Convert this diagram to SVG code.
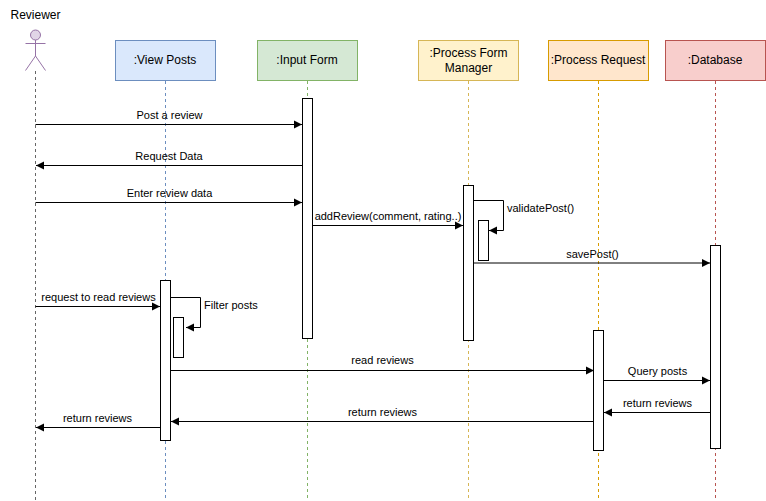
<svg xmlns="http://www.w3.org/2000/svg" width="766" height="501" viewBox="0 0 766 501">
<style>
text{font-family:"Liberation Sans",Arial,sans-serif;fill:#000}
.n{font-size:12px;text-anchor:middle}
.l{font-size:11px;text-anchor:middle}
.s{font-size:11px}
.ll{fill:none;stroke-dasharray:3 3;stroke-width:1}
.b{stroke-width:1}
.a{fill:#fff;stroke:#000;stroke-width:1}
.c{fill:none;stroke:#000;stroke-width:1;marker-end:url(#ah)}
</style>
<defs>
<marker id="ah" markerUnits="userSpaceOnUse" markerWidth="10" markerHeight="10" refX="8" refY="4.5" orient="auto"><path d="M0 0.5L8 4.5L0 8.5Z" fill="#000"/></marker>
</defs>
<rect width="766" height="501" fill="#fff"/>
<g id="lifelines">
<path class="ll" stroke="#666" d="M35.5 71V500"/>
<path class="ll" stroke="#6c8ebf" d="M165.5 81V500"/>
<path class="ll" stroke="#82b366" d="M307.5 81V500"/>
<path class="ll" stroke="#d6b656" d="M468.5 81V500"/>
<path class="ll" stroke="#d79b00" d="M598.5 81V500"/>
<path class="ll" stroke="#b85450" d="M715.5 81V500"/>
</g>
<g id="reviewer">
<circle cx="35.5" cy="35" r="5" fill="#e1d5e7" stroke="#9673a6"/>
<path d="M35.5 40V56M25.5 43.5H45.5M35.5 56L25.5 70.5M35.5 56L45.5 70.5" fill="none" stroke="#9673a6"/>
<text class="n" x="35.5" y="19">Reviewer</text>
</g>
<g id="view-posts">
<rect class="b" x="115.5" y="40.5" width="100" height="40" fill="#dae8fc" stroke="#6c8ebf"/>
<text class="n" x="165" y="64">:View Posts</text>
<rect class="a" x="160.5" y="280.5" width="10" height="160"/>
<rect class="a" x="173.5" y="317.5" width="10" height="40"/>
</g>
<g id="input-form">
<rect class="b" x="257.5" y="40.5" width="100" height="40" fill="#d5e8d4" stroke="#82b366"/>
<text class="n" x="307" y="64">:Input Form</text>
<rect class="a" x="302.5" y="98.5" width="10" height="240"/>
</g>
<g id="process-form-manager">
<rect class="b" x="418.5" y="40.5" width="100" height="40" fill="#fff2cc" stroke="#d6b656"/>
<text class="n" x="468.5" y="57">:Process Form</text>
<text class="n" x="468.5" y="72">Manager</text>
<rect class="a" x="463.5" y="185.5" width="10" height="155"/>
<rect class="a" x="478.5" y="220.5" width="10" height="40"/>
</g>
<g id="process-request">
<rect class="b" x="548.5" y="40.5" width="100" height="40" fill="#ffe6cc" stroke="#d79b00"/>
<text class="n" x="598" y="64">:Process Request</text>
<rect class="a" x="593.5" y="330.5" width="10" height="120"/>
</g>
<g id="database">
<rect class="b" x="665.5" y="40.5" width="100" height="40" fill="#f8cecc" stroke="#b85450"/>
<text class="n" x="715" y="64">:Database</text>
<rect class="a" x="710.5" y="245.5" width="10" height="203"/>
</g>
<g id="connectors">
<path class="c" d="M35.5 124.5H302"/>
<path class="c" d="M302.5 165.5H36"/>
<path class="c" d="M35.5 202.5H302"/>
<path class="c" d="M312.5 225.5H463"/>
<path class="c" d="M473.5 200.5H503.5V230.5H489"/>
<path class="c" d="M473.5 263H710"/>
<path class="c" d="M35.5 306.5H160"/>
<path class="c" d="M170.5 297.5H200.5V327.5H186"/>
<path class="c" d="M170.5 370.5H594"/>
<path class="c" d="M603.5 380.5H710"/>
<path class="c" d="M710.5 412.5H604"/>
<path class="c" d="M593.5 421.5H171"/>
<path class="c" d="M160.5 427.5H36"/>
</g>
<g id="labels">
<text class="l" x="169.5" y="119">Post a review</text>
<text class="l" x="169" y="160">Request Data</text>
<text class="l" x="169.5" y="197">Enter review data</text>
<text class="l" x="388" y="220">addReview(comment, rating..)</text>
<text class="s" x="507" y="212">validatePost()</text>
<text class="l" x="592.5" y="258">savePost()</text>
<text class="l" x="98.5" y="301">request to read reviews</text>
<text class="s" x="204" y="309">Filter posts</text>
<text class="l" x="382.5" y="364">read reviews</text>
<text class="l" x="657.5" y="375">Query posts</text>
<text class="l" x="657.5" y="407">return reviews</text>
<text class="l" x="382.5" y="416">return reviews</text>
<text class="l" x="97.5" y="422">return reviews</text>
</g>
</svg>
